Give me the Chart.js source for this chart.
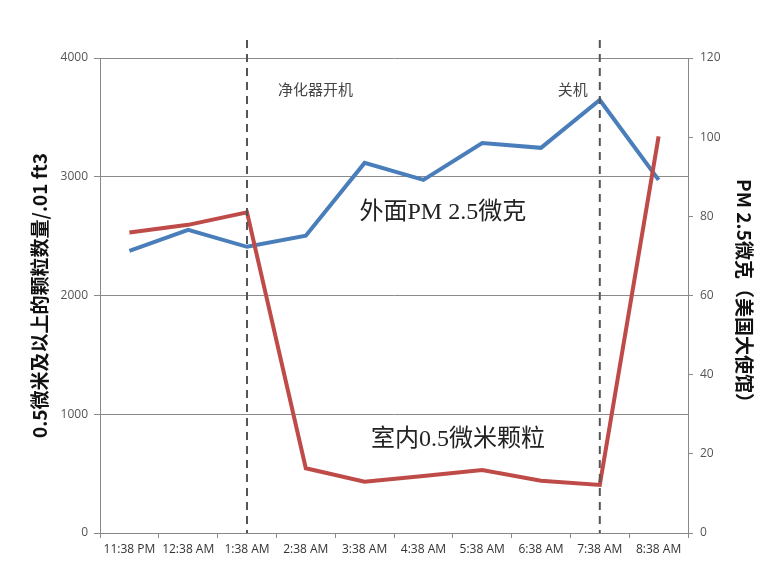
<!DOCTYPE html>
<html>
<head>
<meta charset="utf-8">
<script src="https://cdn.jsdelivr.net/npm/chart.js@4"></script>
<style>
  html, body { margin: 0; padding: 0; background: #fff; }
  #wrap { width: 768px; height: 571px; }
</style>
</head>
<body>
<div id="wrap"><canvas id="pmChart"></canvas></div>
<script>
const timeLabels = ['11:38 PM', '12:38 AM', '1:38 AM', '2:38 AM', '3:38 AM', '4:38 AM', '5:38 AM', '6:38 AM', '7:38 AM', '8:38 AM'];
// indoor particle count (left axis)
const indoorCounts = [2530, 2595, 2700, 545, 432, 480, 530, 440, 405, 3340];
// outdoor PM2.5 from US embassy (right axis)
const outdoorPm25 = [71.3, 76.6, 72.3, 75.1, 93.5, 89.2, 98.5, 97.3, 109.4, 89.2];
const leftTicks = [0, 1000, 2000, 3000, 4000];
const rightTicks = [0, 20, 40, 60, 80, 100, 120];
const eventMarks = [
  { index: 2, text: '净化器开机', align: 'left' },
  { index: 8, text: '关机', align: 'right' },
];

const cjkSans = '"Noto Sans CJK SC", "Liberation Sans", sans-serif';
const serifMix = '"Liberation Serif", "Noto Sans CJK SC", serif';
const tickFont = { size: 12, family: '"Open Sans", sans-serif' };

const annotations = {
  id: 'annotations',
  afterDatasetsDraw(chart) {
    const { ctx, chartArea, scales } = chart;
    ctx.save();
    // dashed event lines + small labels
    eventMarks.forEach(m => {
      const x = scales.x.getPixelForValue(m.index);
      ctx.strokeStyle = '#555';
      ctx.lineWidth = 2;
      ctx.setLineDash([8, 6]);
      ctx.beginPath();
      ctx.moveTo(x, chartArea.top - 18);
      ctx.lineTo(x, chartArea.bottom);
      ctx.stroke();
      ctx.setLineDash([]);
      ctx.fillStyle = '#444';
      ctx.font = '15px ' + cjkSans;
      ctx.textBaseline = 'middle';
      ctx.textAlign = m.align;
      const y = scales.y2.getPixelForValue(112);
      ctx.fillText(m.text, m.align === 'left' ? x + 31 : x - 12, y);
    });
    // series labels
    ctx.fillStyle = '#222';
    ctx.font = '24px ' + serifMix;
    ctx.textAlign = 'center';
    ctx.textBaseline = 'middle';
    ctx.fillText('外面PM 2.5微克', scales.x.getPixelForValue(5.33), scales.y.getPixelForValue(2695));
    ctx.fillText('室内0.5微米颗粒', scales.x.getPixelForValue(5.59), scales.y.getPixelForValue(785));
    ctx.restore();
  }
};

const ctx = document.getElementById('pmChart').getContext('2d');
new Chart(ctx, {
  type: 'line',
  data: {
    labels: timeLabels,
    datasets: [
      {
        label: '室内0.5微米颗粒',
        data: indoorCounts,
        yAxisID: 'y',
        borderColor: '#be4b48',
        borderWidth: 4,
        pointRadius: 0,
        tension: 0,
        fill: false,
      },
      {
        label: '外面PM 2.5微克',
        data: outdoorPm25,
        yAxisID: 'y2',
        borderColor: '#4a7ebb',
        borderWidth: 4,
        pointRadius: 0,
        tension: 0,
        fill: false,
      },
    ],
  },
  options: {
    responsive: true,
    maintainAspectRatio: false,
    animation: false,
    layout: { padding: { left: 28, right: 12, top: 58, bottom: 0 } },
    plugins: {
      legend: { display: false },
      title: { display: false },
      tooltip: { enabled: false },
    },
    scales: {
      x: {
        offset: true,
        grid: { drawOnChartArea: false, drawTicks: true, tickLength: 5, offset: true, color: '#888' },
        border: { color: '#888', width: 1 },
        ticks: { color: '#333', font: tickFont, autoSkip: false, maxRotation: 0, padding: 4 },
        afterFit: s => { s.height = 38; },
      },
      y: {
        position: 'left',
        min: 0, max: 4000,
        afterBuildTicks: s => { s.ticks = leftTicks.map(v => ({ value: v })); },
        grid: { color: '#8a8a8a', lineWidth: 1, tickLength: 6 },
        border: { color: '#888' },
        ticks: { color: '#555', font: tickFont, padding: 6, callback: v => String(v) },
        title: {
          display: true,
          text: '0.5微米及以上的颗粒数量/.01 ft3',
          color: '#111',
          font: { size: 19, weight: 'bold', family: cjkSans },
          padding: 0,
        },
        afterFit: s => { s.width = 72; },
      },
      y2: {
        position: 'right',
        min: 0, max: 120,
        afterBuildTicks: s => { s.ticks = rightTicks.map(v => ({ value: v })); },
        grid: { drawOnChartArea: false, color: '#8a8a8a', tickLength: 5 },
        border: { color: '#888' },
        ticks: { color: '#555', font: tickFont, padding: 7, callback: v => String(v) },
        title: {
          display: true,
          text: 'PM 2.5微克（美国大使馆）',
          color: '#111',
          font: { size: 19, weight: 'bold', family: cjkSans },
          padding: 0,
        },
        afterFit: s => { s.width = 68; },
      },
    },
  },
  plugins: [annotations],
});
</script>
</body>
</html>
